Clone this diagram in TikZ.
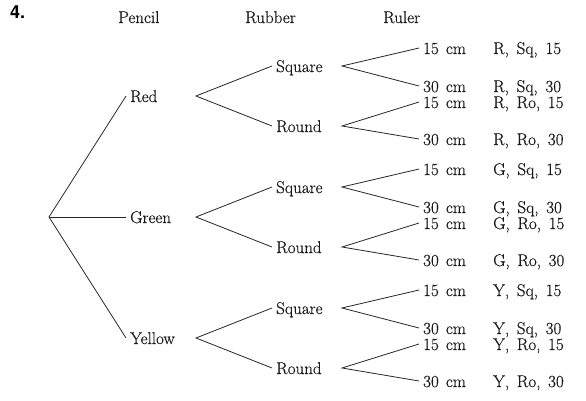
\documentclass[tikz,border=0pt]{standalone}
\usepackage{fontspec}
\newfontfamily\headfont{TeX Gyre Heros}
\newfontfamily\bodyfont{Latin Modern Roman}[FakeBold=0.5]
\begin{document}
\begin{tikzpicture}[x=1pt,y=-1pt,
  txt/.style={anchor=west, inner xsep=4pt, inner ysep=0pt, text height=12pt, text depth=0pt,
              font=\bodyfont\fontsize{17}{20}\selectfont, text=black!90},
  conn/.style={line width=0.8pt, black!85},
]
\useasboundingbox (0,0) rectangle (586,401);
\node[anchor=west, inner sep=0pt, font=\headfont\bfseries\fontsize{18}{20}\selectfont] (num) at (10,12) {4.};
\node[txt] (hP) at (114,17) {Pencil};
\node[txt] (hRb) at (241,17) {Rubber};
\node[txt] (hRl) at (379,17) {Ruler};
\coordinate (root) at (49,217);
\foreach \c/\nm/\k in {R/Red/0,G/Green/1,Y/Yellow/2}{
  \pgfmathsetmacro\off{121*\k}
  \node[txt] (p\c) at (126, 96+\off) {\nm};
  \coordinate (v\c) at (196, 96+\off);
  \node[txt] (sq\c) at (272, 66+\off) {Square};
  \node[txt] (ro\c) at (272, 126+\off) {Round};
  \coordinate (vsq\c) at (342, 66+\off);
  \coordinate (vro\c) at (342, 126+\off);
  \node[txt] (a\c) at (419, 48+\off) {15\hspace{0.42em}cm};
  \node[txt] (b\c) at (419, 86+\off) {30\hspace{0.42em}cm};
  \node[txt] (c\c) at (419, 102+\off) {15\hspace{0.42em}cm};
  \node[txt] (d\c) at (419, 139+\off) {30\hspace{0.42em}cm};
  \node[txt] (oa\c) at (489, 48+\off) {\c,\hspace{0.45em}Sq,\hspace{0.45em}15};
  \node[txt] (ob\c) at (489, 86+\off) {\c,\hspace{0.45em}Sq,\hspace{0.45em}30};
  \node[txt] (oc\c) at (489, 102+\off) {\c,\hspace{0.45em}Ro,\hspace{0.45em}15};
  \node[txt] (od\c) at (489, 139+\off) {\c,\hspace{0.45em}Ro,\hspace{0.45em}30};
  \draw[conn] (root) -- (p\c.west);
  \draw[conn] (sq\c.west) -- (v\c) -- (ro\c.west);
  \draw[conn] (a\c.west) -- (vsq\c) -- (b\c.west);
  \draw[conn] (c\c.west) -- (vro\c) -- (d\c.west);
}
\end{tikzpicture}
\end{document}
